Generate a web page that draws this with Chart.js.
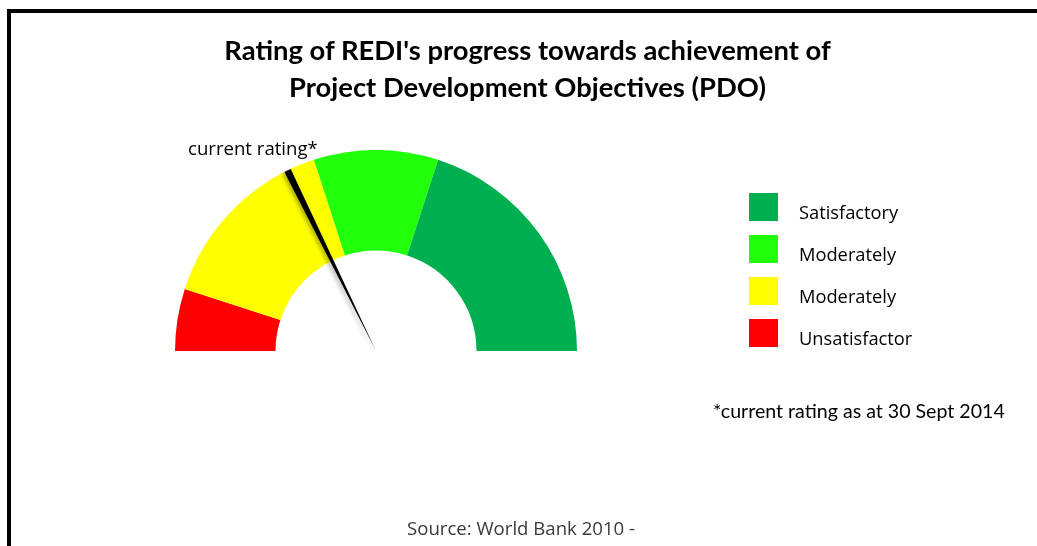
<!DOCTYPE html>
<html>
<head>
<meta charset="utf-8">
<script src="https://cdn.jsdelivr.net/npm/chart.js@4.4.1/dist/chart.umd.min.js"></script>
<style>
  html, body { margin: 0; padding: 0; background: #fff; }
  #wrap { position: relative; width: 1037px; height: 546px; overflow: hidden; }
  #frame { position: absolute; left: 7px; top: 9px; width: 1040px; height: 560px;
           border-left: 4px solid #000; border-top: 4px solid #000; box-sizing: border-box; }
  canvas { position: absolute; left: 0; top: 0; }
  .title { position: absolute; left: 0; width: 1055px; text-align: center;
           font-family: Lato, "Liberation Sans", sans-serif; font-weight: bold;
           font-size: 27.4px; color: #000; line-height: 32px; }
  .txt { position: absolute; white-space: nowrap; color: #000; }
  #legend .sw { position: absolute; width: 29px; height: 28px; }
  #legend .lb { position: absolute; font-family: "Open Sans", sans-serif; font-size: 18.3px; line-height: 24px; }
</style>
</head>
<body>
<div id="wrap">
  <div id="frame"></div>
  <canvas id="gauge" width="1037" height="546"></canvas>
  <div class="title" style="top:34px">Rating of REDI's progress towards achievement of</div>
  <div class="title" style="top:71px">Project Development Objectives (PDO)</div>
  <div class="txt" id="needleLabel" style="left:188px; top:135px; font-family:'Open Sans',sans-serif; font-size:18.6px; line-height:26px;"></div>
  <div id="legend"></div>
  <div class="txt" id="note" style="left:713px; top:398px; font-family:Lato,sans-serif; font-size:19.6px; line-height:26px;"></div>
  <div class="txt" id="source" style="left:407px; top:515px; font-family:'Open Sans',sans-serif; font-size:18.6px; line-height:26px; color:#3a3a3a;"></div>
</div>
<script>
// Rating bands, left to right along the dial (share of the 0-100 scale)
const bandLabels = ['Unsatisfactor', 'Moderately', 'Moderately', 'Satisfactory'];
const bandValues = [10, 30, 20, 40];
const bandColors = ['#ff0000', '#ffff00', '#22ff0a', '#00b050'];

// Current rating shown by the needle, on the same 0-100 scale
const currentRating = 35.5;
const needleText = 'current rating*';
const noteText = '*current rating as at 30 Sept 2014';
const sourceText = 'Source: World Bank 2010 -';

document.getElementById('needleLabel').textContent = needleText;
document.getElementById('note').textContent = noteText;
document.getElementById('source').textContent = sourceText;

// Needle: a thin wedge from the hub out to the rim at the rating's angle
const needlePlugin = {
  id: 'needle',
  afterDatasetsDraw(chart) {
    const meta = chart.getDatasetMeta(0);
    const arc = meta.data[0];
    if (!arc) return;
    const cx = arc.x, cy = arc.y, r = arc.outerRadius;
    const total = bandValues.reduce((a, b) => a + b, 0);
    const opts = chart.options;
    const start = (opts.rotation - 90) * Math.PI / 180;
    const ang = start + (currentRating / total) * (opts.circumference * Math.PI / 180);
    const tipX = cx + Math.cos(ang) * r, tipY = cy + Math.sin(ang) * r;
    const px = -Math.sin(ang), py = Math.cos(ang);
    const half = 3.5;
    const ctx = chart.ctx;
    ctx.save();
    ctx.shadowColor = 'rgba(0,0,0,0.35)';
    ctx.shadowBlur = 4;
    ctx.shadowOffsetX = -2;
    ctx.shadowOffsetY = 2;
    ctx.beginPath();
    ctx.moveTo(cx, cy);
    ctx.lineTo(tipX + px * half, tipY + py * half);
    ctx.lineTo(tipX - px * half, tipY - py * half);
    ctx.closePath();
    ctx.fillStyle = '#000';
    ctx.fill();
    ctx.restore();
  }
};

const chart = new Chart(document.getElementById('gauge'), {
  type: 'doughnut',
  data: {
    labels: bandLabels,
    datasets: [{
      data: bandValues,
      backgroundColor: bandColors,
      borderWidth: 0,
      hoverOffset: 0
    }]
  },
  options: {
    responsive: false,
    animation: false,
    rotation: -90,
    circumference: 180,
    cutout: '50%',
    layout: { padding: { left: 175, top: 150, right: 460, bottom: 195 } },
    plugins: { legend: { display: false }, tooltip: { enabled: false }, title: { display: false } },
    events: []
  },
  plugins: [needlePlugin]
});

// Legend, listed from the best band down
const legend = document.getElementById('legend');
const order = bandLabels.map((_, i) => i).reverse();
order.forEach((i, k) => {
  const top = 193 + k * 42;
  const sw = document.createElement('div');
  sw.className = 'sw';
  sw.style.left = '749px';
  sw.style.top = top + 'px';
  sw.style.background = bandColors[i];
  legend.appendChild(sw);
  const lb = document.createElement('div');
  lb.className = 'lb';
  lb.style.left = '799px';
  lb.style.top = (top + 7) + 'px';
  lb.textContent = bandLabels[i];
  legend.appendChild(lb);
});
</script>
</body>
</html>
